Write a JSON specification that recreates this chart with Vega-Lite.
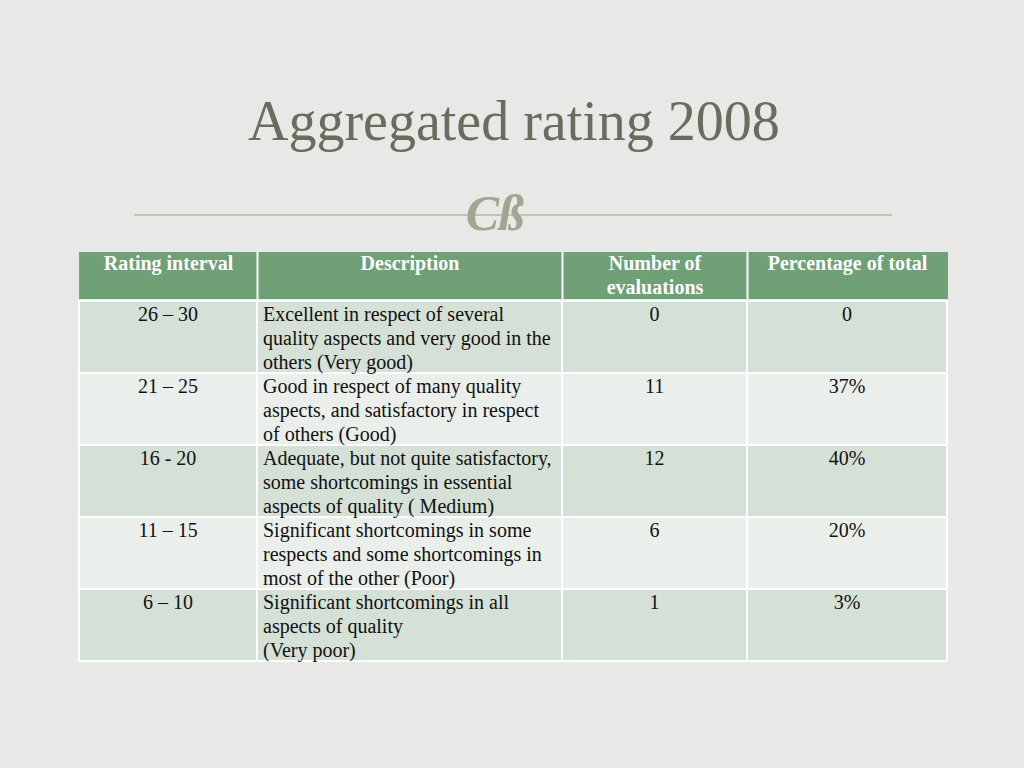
{
  "$schema": "https://vega.github.io/schema/vega-lite/v6.json",
  "background": "#e8e8e6",
  "padding": {"left": 78, "right": 78, "top": 95, "bottom": 109},
  "title": {"text": "Aggregated rating 2008", "font": "Liberation Serif", "fontSize": 56, "fontWeight": "normal", "color": "#6b6c5c", "anchor": "start", "dx": 170, "baseline": "alphabetic", "offset": -17},
  "config": {"view": {"stroke": null}, "concat": {"spacing": 0}},
  "center": true,
  "spacing": 0,
  "datasets": {
    "columns": [
      {"col": 0, "name": "Rating interval"},
      {"col": 1, "name": "Description"},
      {"col": 2, "name": "Number of\nevaluations"},
      {"col": 3, "name": "Percentage of total"}
    ],
    "rows": [
      {"interval": "26 – 30", "description": "Excellent in respect of several\nquality aspects and very good in  the\nothers (Very good)", "evaluations": 0, "percentage": "0"},
      {"interval": "21 – 25", "description": "Good in respect of many quality\naspects, and satisfactory in respect\nof others (Good)", "evaluations": 11, "percentage": "37%"},
      {"interval": "16 - 20", "description": "Adequate, but not  quite satisfactory,\nsome shortcomings in essential\naspects of quality ( Medium)", "evaluations": 12, "percentage": "40%"},
      {"interval": "11 – 15", "description": "Significant shortcomings in some\nrespects and some shortcomings in\nmost of the other (Poor)", "evaluations": 6, "percentage": "20%"},
      {"interval": "6 – 10", "description": "Significant shortcomings in all\naspects of quality\n(Very poor)", "evaluations": 1, "percentage": "3%"}
    ],
    "ornament": [{"glyph": "Cß"}]
  },
  "vconcat": [
    {
      "width": 758,
      "height": 72,
      "data": {"name": "ornament"},
      "layer": [
        {
          "mark": {"type": "rule", "color": "#b4b6a0", "strokeWidth": 1.5},
          "encoding": {
            "x": {"datum": 0, "type": "quantitative", "scale": {"domain": [0, 1]}, "axis": null},
            "x2": {"datum": 1},
            "y": {"datum": 0.5, "type": "quantitative", "scale": {"domain": [0, 1]}, "axis": null}
          }
        },
        {
          "mark": {"type": "text", "font": "Liberation Serif", "fontStyle": "italic", "fontWeight": "bold", "fontSize": 50, "color": "#a3a592", "baseline": "middle", "align": "center"},
          "encoding": {
            "x": {"datum": 0.476, "type": "quantitative", "scale": {"domain": [0, 1]}, "axis": null},
            "y": {"datum": 0.5, "type": "quantitative", "scale": {"domain": [0, 1]}, "axis": null},
            "text": {"field": "glyph"}
          }
        }
      ]
    },
    {
      "width": 868,
      "height": 47,
      "data": {"name": "columns"},
      "layer": [
        {
          "mark": {"type": "rect", "fill": "#6fa076"},
          "encoding": {
            "x": {"datum": 0, "type": "quantitative", "scale": {"domain": [0, 1, 2, 3, 4], "range": [0, 178, 483, 668, 868]}, "axis": null},
            "x2": {"datum": 4}
          }
        },
        {
          "transform": [{"filter": "datum.col > 0"}],
          "mark": {"type": "rule", "color": "#ffffff", "strokeWidth": 2},
          "encoding": {
            "x": {"field": "col", "type": "quantitative", "scale": {"domain": [0, 1, 2, 3, 4], "range": [0, 178, 483, 668, 868]}, "axis": null}
          }
        },
        {
          "transform": [{"filter": "datum.col == 0"}],
          "mark": {"type": "text", "font": "Liberation Serif", "fontWeight": "bold", "fontSize": 20, "color": "#ffffff", "align": "center", "baseline": "alphabetic", "lineBreak": "\n", "lineHeight": 24, "dx": 89, "dy": -5.5},
          "encoding": {
            "x": {"field": "col", "type": "quantitative", "scale": {"domain": [0, 1, 2, 3, 4], "range": [0, 178, 483, 668, 868]}, "axis": null},
            "text": {"field": "name"}
          }
        },
        {
          "transform": [{"filter": "datum.col == 1"}],
          "mark": {"type": "text", "font": "Liberation Serif", "fontWeight": "bold", "fontSize": 20, "color": "#ffffff", "align": "center", "baseline": "alphabetic", "lineBreak": "\n", "lineHeight": 24, "dx": 152.5, "dy": -5.5},
          "encoding": {
            "x": {"field": "col", "type": "quantitative", "scale": {"domain": [0, 1, 2, 3, 4], "range": [0, 178, 483, 668, 868]}, "axis": null},
            "text": {"field": "name"}
          }
        },
        {
          "transform": [{"filter": "datum.col == 2"}],
          "mark": {"type": "text", "font": "Liberation Serif", "fontWeight": "bold", "fontSize": 20, "color": "#ffffff", "align": "center", "baseline": "alphabetic", "lineBreak": "\n", "lineHeight": 24, "dx": 92.5, "dy": -5.5},
          "encoding": {
            "x": {"field": "col", "type": "quantitative", "scale": {"domain": [0, 1, 2, 3, 4], "range": [0, 178, 483, 668, 868]}, "axis": null},
            "text": {"field": "name"}
          }
        },
        {
          "transform": [{"filter": "datum.col == 3"}],
          "mark": {"type": "text", "font": "Liberation Serif", "fontWeight": "bold", "fontSize": 20, "color": "#ffffff", "align": "center", "baseline": "alphabetic", "lineBreak": "\n", "lineHeight": 24, "dx": 100, "dy": -5.5},
          "encoding": {
            "x": {"field": "col", "type": "quantitative", "scale": {"domain": [0, 1, 2, 3, 4], "range": [0, 178, 483, 668, 868]}, "axis": null},
            "text": {"field": "name"}
          }
        }
      ]
    },
    {
      "width": 868,
      "height": 360,
      "data": {"name": "rows"},
      "layer": [
        {
          "mark": {"type": "rect", "stroke": "#ffffff", "strokeWidth": 2},
          "encoding": {
            "x": {"datum": 0, "type": "quantitative", "scale": {"domain": [0, 1, 2, 3, 4], "range": [0, 178, 483, 668, 868]}, "axis": null},
            "x2": {"datum": 4},
            "y": {"field": "interval", "type": "nominal", "sort": null, "scale": {"domain": ["26 – 30", "21 – 25", "16 - 20", "11 – 15", "6 – 10"], "paddingInner": 0, "paddingOuter": 0}, "axis": null},
            "fill": {"field": "interval", "type": "nominal", "scale": {"domain": ["26 – 30", "21 – 25", "16 - 20", "11 – 15", "6 – 10"], "range": ["#d5e0d6", "#ebefeb", "#d5e0d6", "#ebefeb", "#d5e0d6"]}, "legend": null}
          }
        },
        {
          "data": {"name": "columns"},
          "transform": [{"filter": "datum.col > 0"}],
          "mark": {"type": "rule", "color": "#ffffff", "strokeWidth": 2},
          "encoding": {
            "x": {"field": "col", "type": "quantitative", "scale": {"domain": [0, 1, 2, 3, 4], "range": [0, 178, 483, 668, 868]}, "axis": null}
          }
        },
        {
          "mark": {"type": "text", "font": "Liberation Serif", "fontSize": 20, "color": "#111111", "align": "center", "baseline": "alphabetic", "lineBreak": "\n", "lineHeight": 24, "dx": 89, "dy": 20},
          "encoding": {
            "x": {"datum": 0, "type": "quantitative", "scale": {"domain": [0, 1, 2, 3, 4], "range": [0, 178, 483, 668, 868]}, "axis": null},
            "y": {"field": "interval", "type": "nominal", "bandPosition": 0, "sort": null, "scale": {"domain": ["26 – 30", "21 – 25", "16 - 20", "11 – 15", "6 – 10"], "paddingInner": 0, "paddingOuter": 0}, "axis": null},
            "text": {"field": "interval"}
          }
        },
        {
          "mark": {"type": "text", "font": "Liberation Serif", "fontSize": 20, "color": "#111111", "align": "left", "baseline": "alphabetic", "lineBreak": "\n", "lineHeight": 24, "dx": 6, "dy": 20},
          "encoding": {
            "x": {"datum": 1, "type": "quantitative", "scale": {"domain": [0, 1, 2, 3, 4], "range": [0, 178, 483, 668, 868]}, "axis": null},
            "y": {"field": "interval", "type": "nominal", "bandPosition": 0, "sort": null, "scale": {"domain": ["26 – 30", "21 – 25", "16 - 20", "11 – 15", "6 – 10"], "paddingInner": 0, "paddingOuter": 0}, "axis": null},
            "text": {"field": "description"}
          }
        },
        {
          "mark": {"type": "text", "font": "Liberation Serif", "fontSize": 20, "color": "#111111", "align": "center", "baseline": "alphabetic", "lineBreak": "\n", "lineHeight": 24, "dx": 92.5, "dy": 20},
          "encoding": {
            "x": {"datum": 2, "type": "quantitative", "scale": {"domain": [0, 1, 2, 3, 4], "range": [0, 178, 483, 668, 868]}, "axis": null},
            "y": {"field": "interval", "type": "nominal", "bandPosition": 0, "sort": null, "scale": {"domain": ["26 – 30", "21 – 25", "16 - 20", "11 – 15", "6 – 10"], "paddingInner": 0, "paddingOuter": 0}, "axis": null},
            "text": {"field": "evaluations", "type": "quantitative"}
          }
        },
        {
          "mark": {"type": "text", "font": "Liberation Serif", "fontSize": 20, "color": "#111111", "align": "center", "baseline": "alphabetic", "lineBreak": "\n", "lineHeight": 24, "dx": 100, "dy": 20},
          "encoding": {
            "x": {"datum": 3, "type": "quantitative", "scale": {"domain": [0, 1, 2, 3, 4], "range": [0, 178, 483, 668, 868]}, "axis": null},
            "y": {"field": "interval", "type": "nominal", "bandPosition": 0, "sort": null, "scale": {"domain": ["26 – 30", "21 – 25", "16 - 20", "11 – 15", "6 – 10"], "paddingInner": 0, "paddingOuter": 0}, "axis": null},
            "text": {"field": "percentage"}
          }
        }
      ]
    }
  ]
}
